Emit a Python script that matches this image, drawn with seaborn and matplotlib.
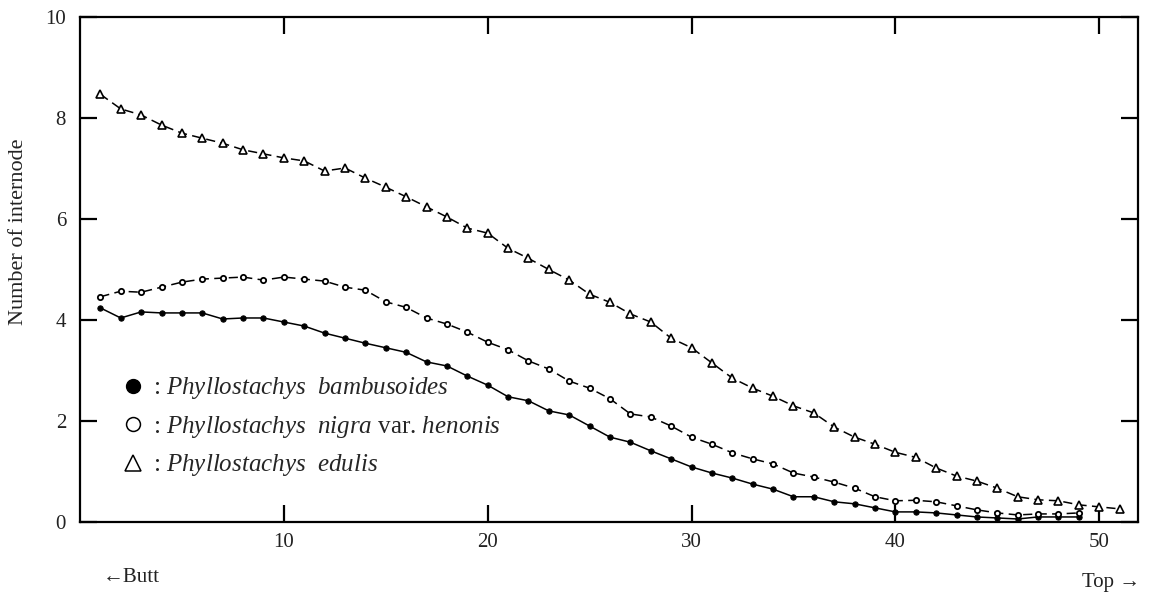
import numpy as np
import pandas as pd
import matplotlib
matplotlib.use("Agg")
import matplotlib.pyplot as plt
import seaborn as sns
from matplotlib.lines import Line2D

# ---- data ----
internode_bamb = list(range(1, 50))
bambusoides = [4.24, 4.04, 4.16, 4.14, 4.14, 4.14, 4.02, 4.04, 4.04, 3.96,
               3.88, 3.74, 3.64, 3.54, 3.45, 3.36, 3.17, 3.09, 2.89, 2.71,
               2.48, 2.40, 2.20, 2.12, 1.90, 1.68, 1.58, 1.41, 1.25, 1.09,
               0.97, 0.87, 0.75, 0.65, 0.50, 0.50, 0.40, 0.36, 0.28, 0.20,
               0.20, 0.18, 0.14, 0.10, 0.08, 0.06, 0.10, 0.10, 0.10]

internode_nigra = list(range(1, 50))
nigra = [4.46, 4.57, 4.55, 4.65, 4.75, 4.81, 4.83, 4.85, 4.79, 4.85,
         4.81, 4.77, 4.65, 4.59, 4.36, 4.25, 4.04, 3.92, 3.76, 3.56,
         3.41, 3.19, 3.03, 2.79, 2.65, 2.44, 2.14, 2.08, 1.90, 1.68,
         1.54, 1.37, 1.25, 1.15, 0.97, 0.89, 0.79, 0.67, 0.50, 0.42,
         0.43, 0.40, 0.32, 0.24, 0.18, 0.14, 0.16, 0.16, 0.18]

internode_edulis = list(range(1, 52))
edulis = [8.47, 8.18, 8.06, 7.86, 7.70, 7.60, 7.50, 7.37, 7.29, 7.21,
          7.15, 6.95, 7.01, 6.81, 6.63, 6.44, 6.24, 6.04, 5.82, 5.72,
          5.42, 5.22, 5.00, 4.79, 4.51, 4.35, 4.12, 3.96, 3.64, 3.45,
          3.15, 2.85, 2.65, 2.49, 2.30, 2.16, 1.88, 1.68, 1.54, 1.38,
          1.28, 1.07, 0.91, 0.81, 0.67, 0.50, 0.44, 0.42, 0.34, 0.30, 0.26]

x_ticks = [10, 20, 30, 40, 50]
y_ticks = [0, 2, 4, 6, 8, 10]
legend_labels = [r": $\it{Phyllostachys\ \ bambusoides}$",
                 r": $\it{Phyllostachys\ \ nigra}$ var. $\it{henonis}$",
                 r": $\it{Phyllostachys\ \ edulis}$"]

# ---- style ----
sns.set_theme(style="white")
plt.rcParams["font.family"] = ["Liberation Serif", "DejaVu Serif"]
plt.rcParams["mathtext.fontset"] = "custom"
plt.rcParams["mathtext.rm"] = "Liberation Serif"
plt.rcParams["mathtext.it"] = "Liberation Serif:italic"

fig = plt.figure(figsize=(11.49, 5.94), dpi=100)
ax = fig.add_axes([0.0696, 0.1212, 0.9208, 0.8502])

df_b = pd.DataFrame({"x": internode_bamb, "y": bambusoides})
df_n = pd.DataFrame({"x": internode_nigra, "y": nigra})
df_e = pd.DataFrame({"x": internode_edulis, "y": edulis})

sns.lineplot(data=df_b, x="x", y="y", ax=ax, color="black", linewidth=1.1,
             marker="o", markersize=3.8, markerfacecolor="black",
             markeredgecolor="black", linestyle="-")
sns.lineplot(data=df_n, x="x", y="y", ax=ax, color="black", linewidth=1.1,
             marker="o", markersize=3.8, markerfacecolor="white",
             markeredgecolor="black", markeredgewidth=1.3,
             linestyle=(0, (6, 3.5)))
sns.lineplot(data=df_e, x="x", y="y", ax=ax, color="black", linewidth=1.1,
             marker="^", markersize=5.3, markerfacecolor="white",
             markeredgecolor="black", markeredgewidth=1.2,
             linestyle=(0, (6, 3.5)))

ax.set_xlim(0, 51.9)
ax.set_ylim(0, 10)
ax.set_xticks(x_ticks)
ax.set_xticklabels([str(v) for v in x_ticks])
ax.set_yticks(y_ticks)
ax.set_yticklabels([str(v) for v in y_ticks])
ax.set_xlabel("")
ax.set_ylabel("")
for s in ax.spines.values():
    s.set_visible(True)
    s.set_color("black")
    s.set_linewidth(1.6)
ax.tick_params(axis="both", which="both", direction="in", length=12,
               width=1.6, color="black", labelsize=15, labelcolor="#222222",
               top=True, right=True, bottom=True, left=True)
ax.tick_params(axis="x", pad=8)
ax.tick_params(axis="y", pad=10)

fig.text(0.016, 1 - 232 / 594, "Number of internode", rotation=90,
         ha="center", va="center", fontsize=16, color="#222222")
fig.text(103 / 1149, 1 - 577 / 594, "\u2190Butt", ha="left", va="center",
         fontsize=15, color="#222222", family=["Liberation Serif", "DejaVu Sans"])
fig.text(1140 / 1149, 1 - 582 / 594, "Top \u2192", ha="right", va="center",
         fontsize=15, color="#222222", family=["Liberation Serif", "DejaVu Sans"])

handles = [Line2D([], [], linestyle="none", marker="o", markersize=10,
                  markerfacecolor="black", markeredgecolor="black"),
           Line2D([], [], linestyle="none", marker="o", markersize=10,
                  markerfacecolor="white", markeredgecolor="black", markeredgewidth=1.1),
           Line2D([], [], linestyle="none", marker="^", markersize=12,
                  markerfacecolor="white", markeredgecolor="black", markeredgewidth=1.1)]
ax.legend(handles, legend_labels, loc="upper left",
          bbox_to_anchor=(0.030, 0.310), frameon=False, fontsize=18,
          handlelength=0.9, handletextpad=0.35, labelspacing=0.5,
          borderaxespad=0)

fig.savefig("out.png", dpi=100)
